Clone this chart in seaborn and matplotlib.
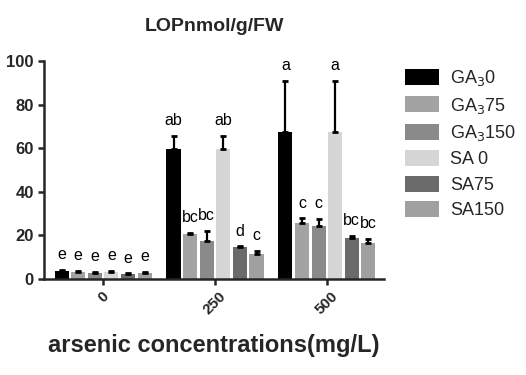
import matplotlib
matplotlib.use("Agg")
import matplotlib.pyplot as plt
import seaborn as sns
import pandas as pd

# data
concentrations = ["0", "250", "500"]
treatments = ["GA$_3$0", "GA$_3$75", "GA$_3$150", "SA 0", "SA75", "SA150"]
means_0 = [3.7, 3.2, 2.8, 3.1, 2.2, 2.6]
means_250 = [59.8, 20.5, 17.6, 59.8, 14.5, 11.6]
means_500 = [67.3, 25.5, 24.3, 67.3, 19.0, 16.7]
err_0 = [0.4, 0.6, 0.6, 0.6, 0.4, 0.6]
err_250 = [5.8, 0.5, 4.5, 5.8, 0.5, 1.2]
err_500 = [23.5, 2.3, 3.3, 23.5, 0.8, 1.8]
letters_0 = ["e", "e", "e", "e", "e", "e"]
letters_250 = ["ab", "bc", "bc", "ab", "d", "c"]
letters_500 = ["a", "c", "c", "a", "bc", "bc"]
colors = ["#000000", "#a3a3a3", "#8a8a8a", "#d6d6d6", "#6b6b6b", "#a0a0a0"]

means = [means_0, means_250, means_500]
errs = [err_0, err_250, err_500]
letters = [letters_0, letters_250, letters_500]

rows = []
for ci, c in enumerate(concentrations):
    for ti, t in enumerate(treatments):
        rows.append({"conc": c, "treat": t, "val": means[ci][ti]})
df = pd.DataFrame(rows)

sns.set_style("ticks")
plt.rcParams["font.family"] = ["Liberation Sans", "DejaVu Sans"]

fig = plt.figure(figsize=(5.26, 3.75), dpi=100)
ax = fig.add_axes([0.084, 0.256, 0.646, 0.581])

sns.barplot(data=df, x="conc", y="val", hue="treat", order=concentrations,
            hue_order=treatments, palette=colors, errorbar=None,
            width=0.89, gap=0.15, saturation=1, linewidth=0, ax=ax, legend=True)

# error bars (upper only) and letters, placed on seaborn's bars
bars = ax.patches[:len(df)]
for ti, t in enumerate(treatments):
    for ci, c in enumerate(concentrations):
        p = bars[ti * len(concentrations) + ci]
        x = p.get_x() + p.get_width() / 2
        h = means[ci][ti]
        e = errs[ci][ti]
        ax.errorbar(x, h, yerr=[[0], [e]], fmt="none", ecolor="black",
                    elinewidth=1.6, capsize=2.5, capthick=2)
        ax.text(x, h + e + 7, letters[ci][ti], ha="center", va="center",
                fontsize=11.5, color="black")

ax.set_ylim(0, 100)
ax.set_xlim(-0.527, 2.51)
ax.set_yticks([0, 20, 40, 60, 80, 100])
ax.tick_params(axis="both", width=1.8, length=4)
for lbl in ax.get_yticklabels():
    lbl.set_fontweight("bold")
    lbl.set_fontsize(12)
for lbl in ax.get_xticklabels():
    lbl.set_fontweight("bold")
    lbl.set_fontsize(11)
    lbl.set_rotation(45)
    lbl.set_ha("center")
    lbl.set_va("top")
ax.set_ylabel("")
ax.set_xlabel("arsenic concentrations(mg/L)", fontsize=17, fontweight="bold",
              labelpad=12)
ax.set_title("LOPnmol/g/FW", fontsize=14, fontweight="bold", pad=22)
sns.despine(ax=ax)
for s in ["left", "bottom"]:
    ax.spines[s].set_linewidth(1.8)

leg = ax.legend(loc="upper left", bbox_to_anchor=(1.04, 1.0), frameon=False,
                fontsize=13, handlelength=1.9, handleheight=1.0,
                labelspacing=0.4, borderaxespad=0, handletextpad=0.6)

fig.savefig("out.png", dpi=100)
